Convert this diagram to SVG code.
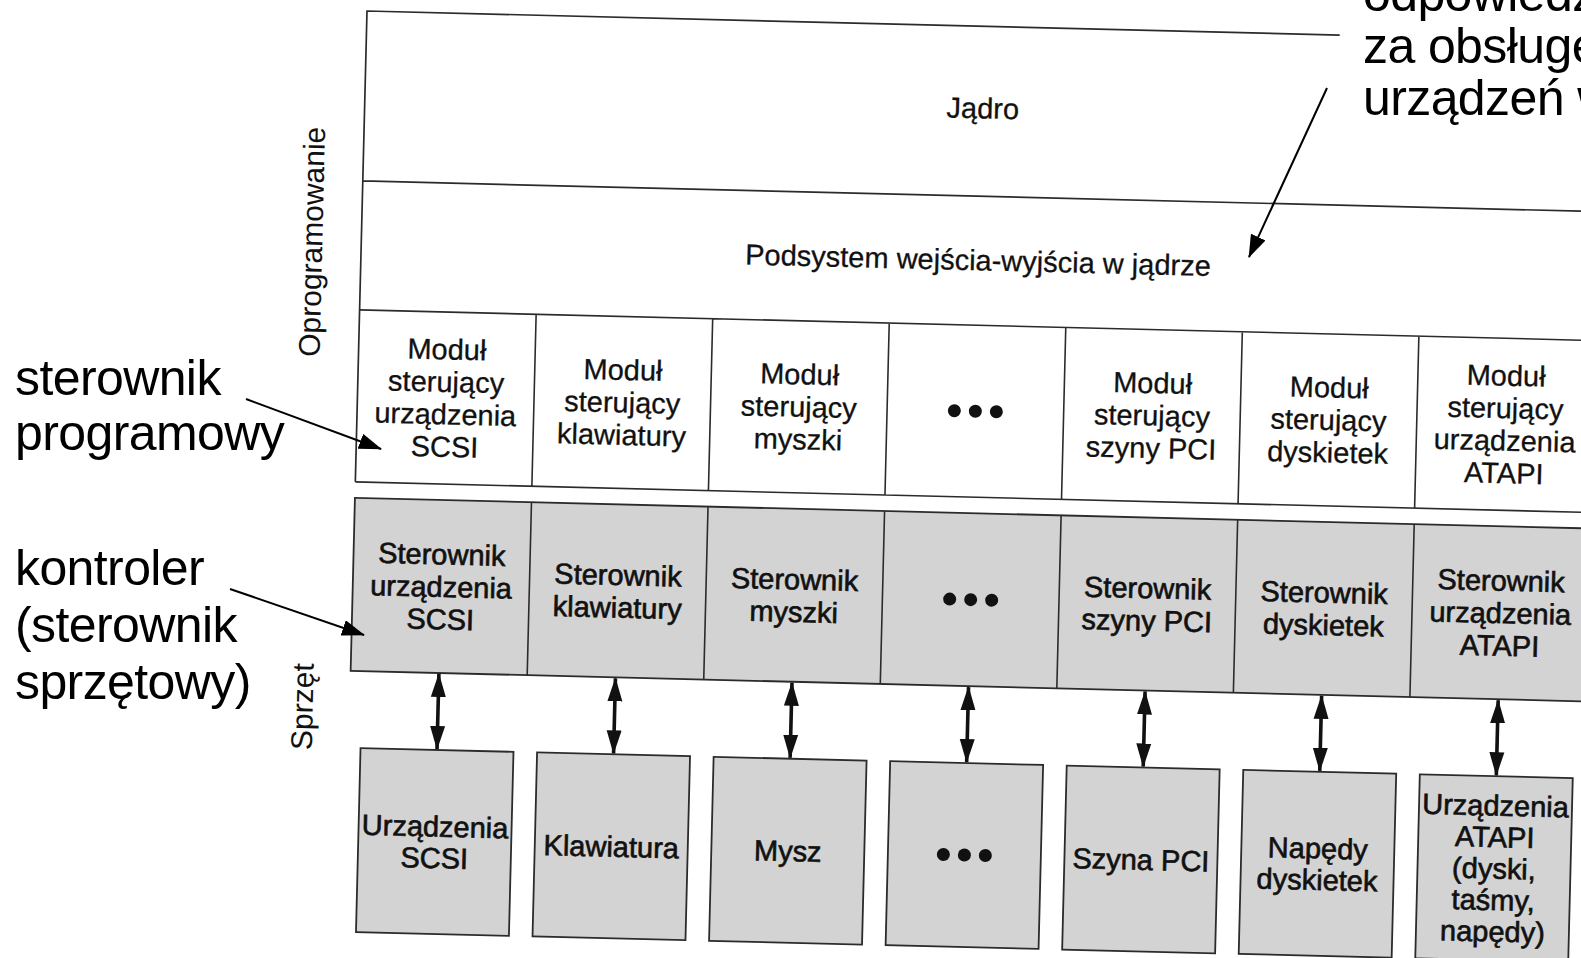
<svg xmlns="http://www.w3.org/2000/svg" width="1581" height="958" viewBox="0 0 1581 958">
  <style>
    text { font-family: "Liberation Sans", Arial, Helvetica, sans-serif; fill: #111; }
    .lbl { font-size: 29px; text-anchor: middle; stroke: #111; stroke-width: 0.3px; }
    .hw { stroke-width: 0.65px; }
    .side { font-size: 30px; text-anchor: middle; }
    .note { font-size: 50px; letter-spacing: -0.6px; fill: #000; }
    .frame { fill: none; stroke: #2b2b2b; stroke-width: 1.7; }
    .cell { fill: none; stroke: #2b2b2b; stroke-width: 1.6; }
    .gray { fill: #d3d3d3; stroke: #2b2b2b; stroke-width: 1.8; }
    .dots circle { fill: #111; }
    .link { stroke: #111; stroke-width: 3.6; fill: none; }
    .pointer { stroke: #000; stroke-width: 2; fill: none; }
  </style>
  <defs>
    <marker id="tip" markerUnits="userSpaceOnUse" markerWidth="26" markerHeight="16" refX="23" refY="7.5" orient="auto-start-reverse" viewBox="0 0 26 15">
      <path d="M0,0 L24,7.5 L0,15 z" fill="#111"/>
    </marker>
    <marker id="head" markerUnits="userSpaceOnUse" markerWidth="24" markerHeight="16" refX="22" refY="8" orient="auto" viewBox="0 0 24 16">
      <path d="M0,0 L23,8 L0,16 z" fill="#000"/>
    </marker>
  </defs>

  <rect width="1581" height="958" fill="#fff"/>

  <!-- layered I/O diagram, drawn on a slightly tilted sheet -->
  <g id="sheet" transform="translate(367 11) rotate(1.42)">

    <!-- software layers: kernel, I/O subsystem, driver modules -->
    <g id="kernel">
      <path class="frame" d="M973,0 H0 V471 M0,170 H1240"/>
      <text class="lbl" x="618" y="92">Jądro</text>
    </g>
    <g id="io-subsystem">
      <text class="lbl" x="617" y="244">Podsystem wejścia-wyjścia w jądrze</text>
    </g>

    <g id="modules">
      <path class="cell" d="M0,299 H1240 M0,471 H1240 M176.6,299 V471 M353.2,299 V471 M529.8,299 V471 M706.4,299 V471 M883,299 V471 M1059.6,299 V471"/>
      <g id="mod-scsi"><text class="lbl" x="88.3" y="346.3">Moduł<tspan x="88.3" dy="32.5">sterujący</tspan><tspan x="88.3" dy="32.5">urządzenia</tspan><tspan x="88.3" dy="32.5">SCSI</tspan></text></g>
      <g id="mod-kbd"><text class="lbl" x="264.9" y="362.5">Moduł<tspan x="264.9" dy="32.5">sterujący</tspan><tspan x="264.9" dy="32.5">klawiatury</tspan></text></g>
      <g id="mod-mouse"><text class="lbl" x="441.5" y="362.5">Moduł<tspan x="441.5" dy="32.5">sterujący</tspan><tspan x="441.5" dy="32.5">myszki</tspan></text></g>
      <g id="mod-more" class="dots"><circle cx="597.1" cy="385" r="6.5"/><circle cx="618.1" cy="385" r="6.5"/><circle cx="639.1" cy="385" r="6.5"/></g>
      <g id="mod-pci"><text class="lbl" x="794.7" y="362.5">Moduł<tspan x="794.7" dy="32.5">sterujący</tspan><tspan x="794.7" dy="32.5">szyny PCI</tspan></text></g>
      <g id="mod-floppy"><text class="lbl" x="971.3" y="362.5">Moduł<tspan x="971.3" dy="32.5">sterujący</tspan><tspan x="971.3" dy="32.5">dyskietek</tspan></text></g>
      <g id="mod-atapi"><text class="lbl" x="1147.9" y="346.3">Moduł<tspan x="1147.9" dy="32.5">sterujący</tspan><tspan x="1147.9" dy="32.5">urządzenia</tspan><tspan x="1147.9" dy="32.5">ATAPI</tspan></text></g>
    </g>

    <!-- hardware controllers -->
    <g id="controllers">
      <rect class="gray" x="0" y="487" width="1240" height="173"/>
      <path class="cell" d="M176.6,487 V660 M353.2,487 V660 M529.8,487 V660 M706.4,487 V660 M883,487 V660 M1059.6,487 V660"/>
      <g id="ctl-scsi"><text class="lbl hw" x="88.3" y="551.4">Sterownik<tspan x="88.3" dy="32.5">urządzenia</tspan><tspan x="88.3" dy="32.5">SCSI</tspan></text></g>
      <g id="ctl-kbd"><text class="lbl hw" x="264.9" y="567.7">Sterownik<tspan x="264.9" dy="32.5">klawiatury</tspan></text></g>
      <g id="ctl-mouse"><text class="lbl hw" x="441.5" y="567.7">Sterownik<tspan x="441.5" dy="32.5">myszki</tspan></text></g>
      <g id="ctl-more" class="dots"><circle cx="597.1" cy="573.5" r="6.5"/><circle cx="618.1" cy="573.5" r="6.5"/><circle cx="639.1" cy="573.5" r="6.5"/></g>
      <g id="ctl-pci"><text class="lbl hw" x="794.7" y="567.7">Sterownik<tspan x="794.7" dy="32.5">szyny PCI</tspan></text></g>
      <g id="ctl-floppy"><text class="lbl hw" x="971.3" y="567.7">Sterownik<tspan x="971.3" dy="32.5">dyskietek</tspan></text></g>
      <g id="ctl-atapi"><text class="lbl hw" x="1147.9" y="551.4">Sterownik<tspan x="1147.9" dy="32.5">urządzenia</tspan><tspan x="1147.9" dy="32.5">ATAPI</tspan></text></g>
    </g>

    <!-- devices -->
    <g id="dev-scsi"><rect class="gray" x="11.8" y="737" width="153" height="184"/><text class="lbl hw" x="88.3" y="823.6">Urządzenia<tspan x="88.3" dy="31.5">SCSI</tspan></text></g>
    <g id="dev-kbd"><rect class="gray" x="188.4" y="737" width="153" height="184"/><text class="lbl hw" x="264.9" y="839.4">Klawiatura</text></g>
    <g id="dev-mouse"><rect class="gray" x="365" y="737" width="153" height="184"/><text class="lbl hw" x="441.5" y="839.4">Mysz</text></g>
    <g id="dev-more"><rect class="gray" x="541.6" y="737" width="153" height="184"/><g class="dots"><circle cx="597.1" cy="829" r="6.5"/><circle cx="618.1" cy="829" r="6.5"/><circle cx="639.1" cy="829" r="6.5"/></g></g>
    <g id="dev-pci"><rect class="gray" x="718.2" y="737" width="153" height="184"/><text class="lbl hw" x="794.7" y="839.4">Szyna PCI</text></g>
    <g id="dev-floppy"><rect class="gray" x="894.8" y="737" width="153" height="184"/><text class="lbl hw" x="971.3" y="823.6">Napędy<tspan x="971.3" dy="31.5">dyskietek</tspan></text></g>
    <g id="dev-atapi"><rect class="gray" x="1071.4" y="737" width="153" height="184"/><text class="lbl hw" x="1147.9" y="776.4">Urządzenia<tspan x="1147.9" dy="31.5">ATAPI</tspan><tspan x="1147.9" dy="31.5">(dyski,</tspan><tspan x="1147.9" dy="31.5">taśmy,</tspan><tspan x="1147.9" dy="31.5">napędy)</tspan></text></g>

    <!-- controller-device links -->
    <g id="links">
      <line class="link" x1="88.3" y1="661" x2="88.3" y2="736" marker-start="url(#tip)" marker-end="url(#tip)"/>
      <line class="link" x1="264.9" y1="661" x2="264.9" y2="736" marker-start="url(#tip)" marker-end="url(#tip)"/>
      <line class="link" x1="441.5" y1="661" x2="441.5" y2="736" marker-start="url(#tip)" marker-end="url(#tip)"/>
      <line class="link" x1="618.1" y1="661" x2="618.1" y2="736" marker-start="url(#tip)" marker-end="url(#tip)"/>
      <line class="link" x1="794.7" y1="661" x2="794.7" y2="736" marker-start="url(#tip)" marker-end="url(#tip)"/>
      <line class="link" x1="971.3" y1="661" x2="971.3" y2="736" marker-start="url(#tip)" marker-end="url(#tip)"/>
      <line class="link" x1="1147.9" y1="661" x2="1147.9" y2="736" marker-start="url(#tip)" marker-end="url(#tip)"/>
    </g>

    <!-- layer captions -->
    <text class="side" transform="translate(-39 232) rotate(-90)">Oprogramowanie</text>
    <text class="side" transform="translate(-37 697) rotate(-90)">Sprzęt</text>
  </g>

  <!-- explanatory notes -->
  <g id="note-subsystem">
    <text class="note" x="1363" y="11">odpowiedzialny</text>
    <text class="note" x="1363" y="63">za obsługę</text>
    <text class="note" x="1363" y="115">urządzeń we/wy</text>
  </g>
  <g id="note-driver">
    <text class="note" x="15" y="395">sterownik</text>
    <text class="note" x="15" y="450">programowy</text>
  </g>
  <g id="note-controller">
    <text class="note" x="15" y="585">kontroler</text>
    <text class="note" x="15" y="642">(sterownik</text>
    <text class="note" x="15" y="699">sprzętowy)</text>
  </g>
  <g id="pointers">
    <line class="pointer" x1="1327" y1="88" x2="1249" y2="257" marker-end="url(#head)"/>
    <line class="pointer" x1="246" y1="399" x2="381" y2="449" marker-end="url(#head)"/>
    <line class="pointer" x1="230" y1="589" x2="364" y2="635" marker-end="url(#head)"/>
  </g>
</svg>
